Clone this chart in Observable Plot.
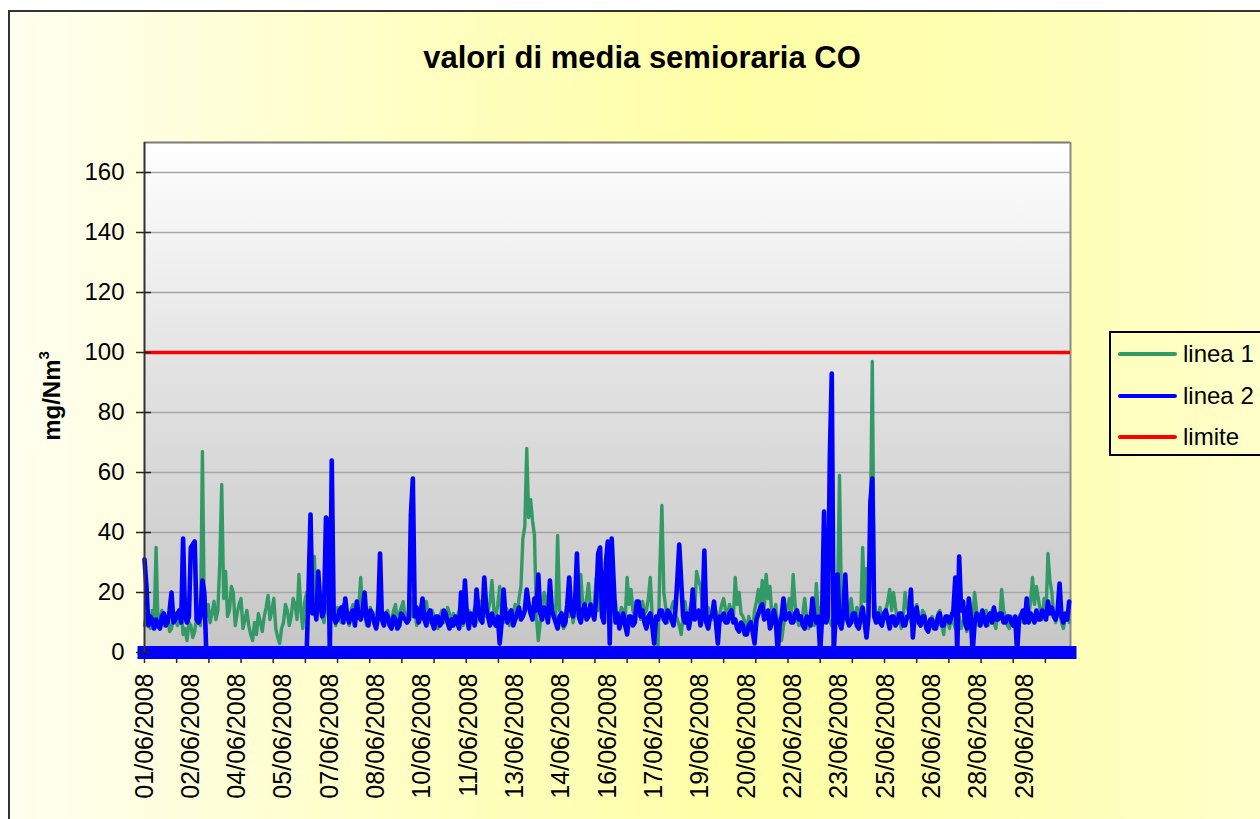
<!DOCTYPE html>
<html>
<head>
<meta charset="utf-8">
<script src="https://cdn.jsdelivr.net/npm/d3@7"></script>
<script src="https://cdn.jsdelivr.net/npm/@observablehq/plot@0.6"></script>
<style>
  html, body { margin: 0; padding: 0; background: #fff; width: 1260px; height: 819px; overflow: hidden;
    font-family: "Liberation Sans", Arial, sans-serif; }
  #frame { position: absolute; left: 8px; top: 10px; width: 1400px; height: 1000px; border: 2px solid #333;
    background: linear-gradient(to right, #fffff0 0%, #ffffc4 28%, #ffffa6 52%, #ffffb4 72%, #ffffd8 100%); }
  #chart { position: absolute; left: 0; top: 0; }
  #title { position: absolute; left: 0; width: 1284px; top: 42px; text-align: center;
    font: bold 31px/31px "Liberation Sans", Arial, sans-serif; color: #000; white-space: nowrap; }
  #ylabel { position: absolute; left: 49px; top: 396px; transform: translate(-50%, -50%) rotate(-90deg);
    font: bold 24px/24px "Liberation Sans", Arial, sans-serif; white-space: nowrap; color: #000; }
  #ylabel sup { font-size: 15px; position: relative; top: -2px; }
  #legend { position: absolute; left: 1109px; top: 331px; width: 200px; height: 125px; border: 2px solid #000; box-sizing: border-box; }
  .sw { position: absolute; left: 1118px; width: 59px; height: 4px; border-radius: 2px; }
  .lt { position: absolute; left: 1183px; font: 24px/24px "Liberation Sans", Arial, sans-serif; color: #000; white-space: nowrap; }
</style>
</head>
<body>
<div id="frame"></div>
<div id="chart"></div>
<div id="title">valori di media semioraria CO</div>
<div id="ylabel">mg/Nm<sup>3</sup></div>
<div id="legend"></div>
<script>
// ---- data: half-hour readings, one stored sample every 3 readings (1.5 hours) ----
const seriesNames = ["linea 1", "linea 2", "limite"];
const seriesColors = ["#339966", "#0000ff", "#ff0000"];
const yTicks = [0, 20, 40, 60, 80, 100, 120, 140, 160];
const dateLabels = ["01/06/2008","02/06/2008","04/06/2008","05/06/2008","07/06/2008","08/06/2008",
  "10/06/2008","11/06/2008","13/06/2008","14/06/2008","16/06/2008","17/06/2008","19/06/2008",
  "20/06/2008","22/06/2008","23/06/2008","25/06/2008","26/06/2008","28/06/2008","29/06/2008"];

const linea1 = [
  9,13,12,8,14,10,35,9,11,14,9,11,12,7,8,12,13,9,10,14,
  6,8,4,10,9,5,7,12,10,9,67,11,12,16,10,13,17,11,14,30,
  56,18,27,12,14,22,20,9,13,16,18,8,11,14,9,6,4,10,6,13,
  10,7,12,15,19,11,14,18,8,5,3,8,10,16,14,9,12,18,16,11,
  26,14,8,17,20,13,22,16,32,12,14,18,12,10,17,13,10,16,13,9,
  15,11,10,16,14,12,9,14,16,10,12,15,25,12,14,9,11,15,13,10,
  12,16,15,11,10,13,14,9,11,14,16,10,13,15,17,11,12,15,18,12,
  14,9,11,15,18,13,17,12,10,14,12,9,8,12,14,10,11,15,13,10,
  13,10,12,14,15,9,11,13,14,10,12,15,10,13,17,14,20,12,14,17,
  24,14,12,16,22,12,10,15,14,9,11,13,16,12,18,22,38,42,68,45,
  51,44,39,12,4,10,14,20,18,11,12,16,15,12,39,14,13,8,9,14,
  12,16,10,13,15,11,26,16,14,18,23,15,12,17,25,14,20,24,27,18,
  16,12,13,16,17,10,12,15,14,11,25,16,21,14,12,16,15,11,17,13,
  14,18,25,12,4,8,2,29,49,20,15,10,12,15,17,13,11,9,6,12,
  17,11,13,16,18,14,27,24,22,16,12,10,15,13,11,16,14,10,13,16,
  18,14,12,16,14,11,25,16,20,13,12,10,8,12,10,7,14,17,21,15,
  24,14,26,18,22,12,13,16,8,11,4,9,12,15,18,12,26,16,11,9,
  10,13,18,11,8,14,12,9,23,13,15,11,10,14,12,10,9,13,14,16,
  59,16,21,14,12,10,18,13,10,15,14,11,35,17,28,14,40,97,18,12,
  12,15,9,11,14,17,21,14,20,15,11,13,8,12,20,15,13,10,10,14,
  16,11,10,14,13,9,7,11,12,8,9,13,14,9,6,12,11,8,13,10,
  8,11,12,8,10,13,7,12,15,11,20,14,9,13,12,10,14,9,11,14,
  10,8,13,11,21,14,12,9,8,12,11,8,9,12,13,10,10,13,12,17,
  25,16,22,18,14,11,18,13,33,24,20,12,10,13,14,10,8,12,13,10
];
const linea2 = [
  31,22,9,12,11,8,11,9,8,12,13,9,10,14,20,10,11,13,14,10,
  38,12,10,12,35,36,37,11,10,12,24,20,0,0,0,0,0,0,0,0,
  0,0,0,0,0,0,0,0,0,0,0,0,0,0,0,0,0,0,0,0,
  0,0,0,0,0,0,0,0,0,0,0,0,0,0,0,0,0,0,0,0,
  0,0,0,0,0,22,46,13,16,11,27,17,12,14,45,44,0,64,12,10,
  11,14,15,10,18,12,10,13,14,9,17,12,11,14,20,11,9,14,13,10,
  8,12,33,11,9,13,12,9,8,12,11,8,9,13,12,11,10,11,46,58,
  12,15,10,12,18,11,9,13,14,10,8,12,12,9,10,14,13,10,8,11,
  9,12,10,8,20,10,24,12,8,13,12,9,21,14,11,10,25,15,12,9,
  13,10,9,12,3,10,21,12,10,13,14,9,11,13,15,11,12,14,21,16,
  13,11,18,14,26,13,11,15,14,10,24,14,12,10,8,12,13,9,10,16,
  25,14,12,16,33,12,10,14,16,11,12,16,14,11,18,33,35,12,10,30,
  37,3,38,24,10,13,8,11,13,9,6,12,12,9,10,17,17,12,14,10,
  8,12,13,9,3,12,11,14,14,11,10,14,13,11,9,14,24,36,24,12,
  10,13,8,12,21,11,12,14,9,12,34,10,8,12,12,17,10,3,12,11,
  13,10,10,13,14,10,11,8,7,10,9,6,6,9,10,7,3,11,13,15,
  16,11,12,14,8,10,14,11,0,9,12,18,11,12,13,10,10,13,14,11,
  12,9,8,12,11,9,18,12,10,12,0,12,47,10,12,65,93,0,12,26,
  10,8,13,26,11,9,10,13,13,9,8,12,15,10,5,12,50,58,12,10,
  13,10,9,13,14,11,8,12,12,9,10,13,13,9,9,12,12,21,5,13,
  15,10,9,12,12,8,7,11,11,8,8,12,13,9,9,12,12,10,12,14,
  25,0,32,14,17,10,8,18,12,0,10,13,12,9,14,11,9,12,13,10,
  15,11,11,13,13,10,10,12,12,10,9,12,0,11,12,14,10,18,10,13,
  12,10,14,11,11,14,13,11,17,13,15,12,11,14,23,12,10,13,11,17
];
const limite = [100];
const baseline = [0];

const STEP = 3;            // readings between stored samples
const N_READINGS = 1440;   // 30 days x 48 half-hours
const LABEL_EVERY = 72;    // category label interval
const TICK_EVERY = 50;     // tick mark interval
const Y_MAX = 170;

const rows = arr => arr.map((v, k) => ({i: k * STEP, v}));
const labelIdx = dateLabels.map((_, k) => k * LABEL_EVERY);
const tickIdx = d3.range(0, N_READINGS, TICK_EVERY);

const svg = Plot.plot({
  width: 1260, height: 819,
  marginLeft: 144, marginRight: 190, marginTop: 142, marginBottom: 167,
  style: {background: "transparent", fontFamily: "'Liberation Sans', Arial, sans-serif", fontSize: "24px", color: "#000", overflow: "visible"},
  x: {type: "linear", domain: [0, N_READINGS - 1]},
  y: {domain: [0, Y_MAX]},
  marks: [
    Plot.frame({fill: "url(#plotGrad)", stroke: "none"}),
    Plot.gridY(yTicks.filter(d => d > 0), {stroke: "#a6a6a6", strokeOpacity: 1, strokeWidth: 1.5}),
    Plot.ruleY([Y_MAX], {stroke: "#7a7a7a", strokeWidth: 2}),
    Plot.ruleX([N_READINGS - 1], {stroke: "#8a8a8a", strokeWidth: 2}),
    Plot.axisX(tickIdx, {tickSize: 11, fill: "none", label: null, strokeWidth: 1.5, stroke: "#222"}),
    Plot.line(rows(linea1), {x: "i", y: "v", stroke: seriesColors[0], strokeWidth: 3.4, strokeLinejoin: "round", strokeLinecap: "round"}),
    Plot.line(rows(linea2), {x: "i", y: "v", stroke: seriesColors[1], strokeWidth: 4.6, strokeLinejoin: "round", strokeLinecap: "round"}),
    Plot.ruleY(baseline, {stroke: seriesColors[1], strokeWidth: 13, strokeLinecap: "square"}),
    Plot.ruleY(limite, {stroke: seriesColors[2], strokeWidth: 3.5}),
    Plot.ruleX([0], {stroke: "#333", strokeWidth: 2}),
    Plot.axisY(yTicks, {tickSize: 15, dx: 7, fill: "none", label: null, strokeWidth: 1.5, stroke: "#222"}),
    Plot.axisY(yTicks, {tickSize: 0, tickPadding: 20, fontSize: 24, label: null}),
    Plot.axisX(labelIdx, {tickSize: 0, tickPadding: 21, tickRotate: -90, fontSize: 25, label: null,
      tickFormat: d => dateLabels[Math.round(d / LABEL_EVERY)]})
  ]
});

// vertical gradient for the plot area
const NS = "http://www.w3.org/2000/svg";
const defs = document.createElementNS(NS, "defs");
const grad = document.createElementNS(NS, "linearGradient");
grad.setAttribute("id", "plotGrad");
grad.setAttribute("x1", "0"); grad.setAttribute("y1", "0");
grad.setAttribute("x2", "0"); grad.setAttribute("y2", "1");
[["0", "#ffffff"], ["0.45", "#e2e2e2"], ["1", "#c6c6c6"]].forEach(([o, c]) => {
  const s = document.createElementNS(NS, "stop");
  s.setAttribute("offset", o); s.setAttribute("stop-color", c);
  grad.appendChild(s);
});
defs.appendChild(grad);
svg.insertBefore(defs, svg.firstChild);
document.getElementById("chart").appendChild(svg);

// legend
const legendLineY = [354, 396, 437];
const body = document.body;
seriesNames.forEach((name, k) => {
  const sw = document.createElement("div");
  sw.className = "sw";
  sw.style.top = (legendLineY[k] - 2) + "px";
  sw.style.background = seriesColors[k];
  body.appendChild(sw);
  const t = document.createElement("div");
  t.className = "lt";
  t.style.top = (legendLineY[k] + 8 - 20) + "px";
  t.textContent = name;
  body.appendChild(t);
});
</script>
</body>
</html>
